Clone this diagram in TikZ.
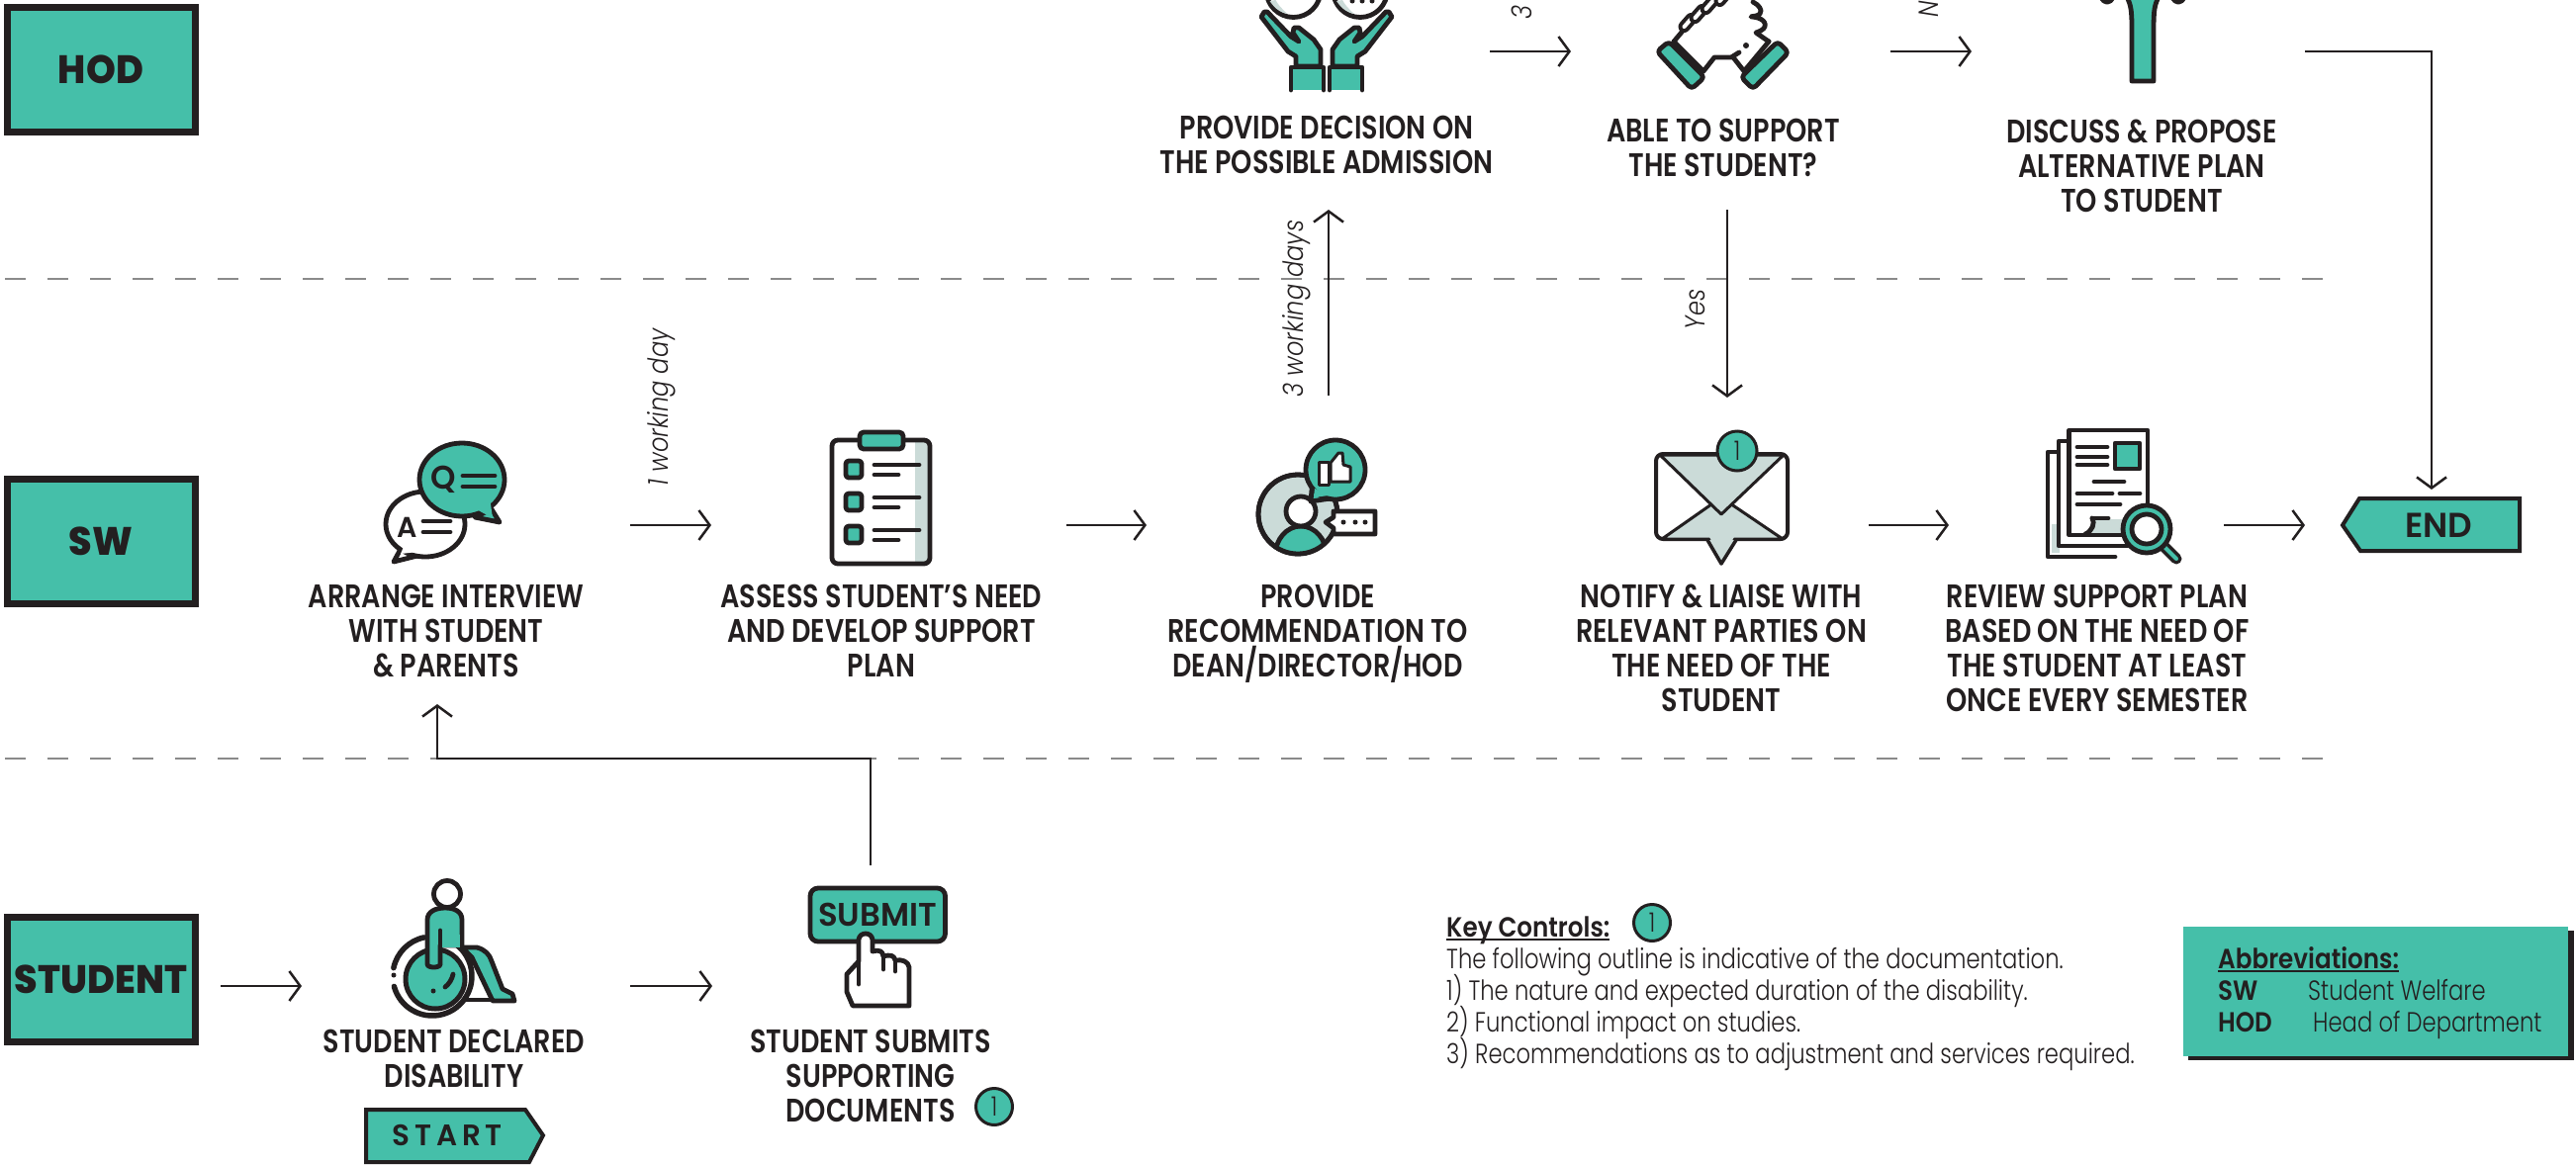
\documentclass[tikz,border=0pt]{standalone}
\usepackage{fontspec}
\usetikzlibrary{arrows.meta,fit}
\setmainfont{Poppins}
\newfontfamily\labfont[FakeStretch=0.82]{Poppins SemiBold}
\newfontfamily\iconfont[FakeStretch=0.98]{Poppins SemiBold}
\newfontfamily\heavyfont[FakeStretch=0.95]{Poppins ExtraBold}
\newfontfamily\thinfont[FakeStretch=0.81]{Poppins Light}
\newfontfamily\rotfont[FakeStretch=0.86]{Poppins Light}
\newfontfamily\keyfont[FakeStretch=0.88]{Poppins SemiBold}
\definecolor{teal}{HTML}{45BFA9}
\definecolor{ink}{HTML}{231F20}
\definecolor{pale}{HTML}{CBDBD8}
\definecolor{gline}{HTML}{8A8A8A}
\newcommand{\myul}[1]{\setbox0\hbox{#1}\rlap{\rule[-4pt]{\wd0}{2.2pt}}\box0}
\tikzset{
 x=1pt,y=-1pt,
 cell/.style={inner sep=0pt,outer sep=0pt},
 lane/.style={draw=ink,line width=7pt,fill=teal,minimum width=190pt,minimum height=126pt,inner sep=0pt,text=ink,font=\heavyfont\fontsize{40}{40}\selectfont},
 steplabel/.style={align=center,inner sep=0pt,text=ink,font=\labfont\fontsize{33}{35}\selectfont},
 arr/.style={draw=ink,line width=2.5pt,-{Straight Barb[length=11pt,width=30pt,line width=2.5pt]}},
 lanedash/.style={draw=gline,line width=2pt,dash pattern=on 21pt off 22pt},
 ic/.style={draw=ink,line width=4.8pt,line join=round,line cap=round},
 thinrot/.style={rotate=90,inner sep=0pt,text=ink,font=\rotfont\itshape\fontsize{28}{28}\selectfont},
 badge/.style={circle,draw=ink,line width=3pt,fill=teal,minimum size=37pt,inner sep=0pt,text=ink,font=\thinfont\fontsize{27}{27}\selectfont},
 tagtext/.style={inner sep=0pt,text=ink,font=\iconfont\fontsize{35}{35}\selectfont},
 keytext/.style={anchor=base west,inner sep=0pt,text=ink,font=\thinfont\fontsize{28}{28}\selectfont},
 keyhead/.style={anchor=base west,inner sep=0pt,text=ink,font=\keyfont\fontsize{28}{28}\selectfont},
}
\begin{document}
\begin{tikzpicture}
\useasboundingbox (0,0) rectangle (2604,1178);
\clip (0,0) rectangle (2604,1178);
\fill[white] (0,0) rectangle (2604,1178);
% lanes
\node[lane] (hod) at (102,70) {HOD};
\node[lane] (sw) at (102,547) {SW};
\node[lane] (student) at (102,990) {STUDENT};
\draw[lanedash] (5,282) -- (2350,282);
\draw[lanedash] (5,767) -- (2350,767);
% invisible step cells whose edges carry the connectors
\node[cell,fit={(223,900) (223,1094)}] (cstudent) {};
\node[cell,fit={(305,960) (637,1034)}] (cdeclared) {};
\node[cell,fit={(720,875) (1040,1119)}] (csubmit) {};
\node[cell,fit={(300,712) (584,350)}] (cchat) {};
\node[cell,fit={(719,470) (1078,592)}] (cassess) {};
\node[cell,fit={(1159,400) (1527,662)}] (crec) {};
\node[cell,fit={(1603,402) (1889,660)}] (cnotify) {};
\node[cell,fit={(1970,470) (2248,592)}] (creview) {};
\node[cell,fit={(1180,-108) (1506,212)}] (cdecision) {};
\node[cell,fit={(1588,-108) (1911,212)}] (cable) {};
\node[cell,fit={(1993,-40) (2330,144)}] (cdiscuss) {};
\coordinate (endtop) at (2458,495);
\coordinate (endleft) at (2330,531);
\coordinate (subtop) at (880,875);
\coordinate (chatbelow) at (442,712);
% connectors
\draw[arr] (cstudent.center |- 0,997) -- (cdeclared.west |- 0,997);
\draw[arr] (cdeclared.east) -- (csubmit.west |- cdeclared.east);
\draw[arr] (subtop) -- (880,767) -| (chatbelow);
\draw[arr] (cchat.east |- 0,531) ++(53,0) -- (cassess.west);
\draw[arr] (cassess.east) -- (crec.west);
\draw[arr] (crec.north) -- (cdecision.south);
\draw[arr] (cdecision.east) -- (cable.west);
\draw[arr] (cable.east) -- (cdiscuss.west);
\draw[arr] ([xshift=-3.5pt]cable.south) -- (cnotify.north);
\draw[arr] (cnotify.east) -- (creview.west);
\draw[arr] (creview.east |- endleft) -- (endleft);
\draw[arr] (cdiscuss.east) -| (endtop);
% rotated labels
\node[thinrot] (l1) at (669,412) {1 working day};
\node[thinrot] (l3) at (1311,312) {3 working days};
\node[thinrot] (lyes) at (1714,313) {Yes};
\node[thinrot,anchor=west] (l3b) at (1538,20) {3};
\node[thinrot,anchor=west] (lno) at (1950,18) {N};
% step labels
\node[steplabel] (tdecision) at (1341,146) {PROVIDE DECISION ON\\THE POSSIBLE ADMISSION};
\node[steplabel] (table) at (1742,149) {ABLE TO SUPPORT\\THE STUDENT?};
\node[steplabel] (tdiscuss) at (2165,168) {DISCUSS \& PROPOSE\\ALTERNATIVE PLAN\\TO STUDENT};
\node[steplabel] (tarrange) at (451,638) {ARRANGE INTERVIEW\\WITH STUDENT\\\& PARENTS};
\node[steplabel] (tassess) at (891,638) {ASSESS STUDENT’S NEED\\AND DEVELOP SUPPORT\\PLAN};
\node[steplabel] (trec) at (1332,641) {PROVIDE\\RECOMMENDATION TO\\DEAN/DIRECTOR/HOD};
\node[steplabel] (tnotify) at (1740,655) {NOTIFY \& LIAISE WITH\\RELEVANT PARTIES ON\\THE NEED OF THE\\STUDENT};
\node[steplabel] (treview) at (2120,655) {REVIEW SUPPORT PLAN\\BASED ON THE NEED OF\\THE STUDENT AT LEAST\\ONCE EVERY SEMESTER};
\node[steplabel] (tdeclared) at (459,1070) {STUDENT DECLARED\\DISABILITY};
\node[steplabel] (tsubmits) at (880,1088) {STUDENT SUBMITS\\SUPPORTING\\DOCUMENTS};
\node[badge] (b1) at (1005,1119) {1};
% START / END tags
\draw[draw=ink,line width=4pt,fill=teal] (370,1122) -- (531,1122) -- (549,1148) -- (535,1175) -- (370,1175) -- cycle;
\node[tagtext,font=\iconfont\fontsize{30}{30}\selectfont] (tstart) at (452,1148) {S\,T\,A\,R\,T};
\draw[draw=ink,line width=4pt,fill=teal] (2368,531) -- (2385,504) -- (2547,504) -- (2547,557) -- (2386,557) -- cycle;
\node[tagtext] (tend) at (2465,531) {END};
% key controls
\node[keyhead] (keyh) at (1462,947) {\myul{Key Controls:}};
\node[badge] (b2) at (1670,933) {1};
\node[keytext] (k0) at (1462,979) {The following outline is indicative of the documentation.};
\node[keytext] (k1) at (1462,1011) {1) The nature and expected duration of the disability.};
\node[keytext] (k2) at (1462,1043) {2) Functional impact on studies.};
\node[keytext] (k3) at (1462,1075) {3) Recommendations as to adjustment and services required.};
% abbreviations
\fill[ink] (2212,941) rectangle (2602,1072);
\fill[teal] (2207,937) rectangle (2596,1068);
\node[keyhead] (ah) at (2242,979) {\myul{Abbreviations:}};
\node[keyhead] (as) at (2242,1011) {SW};
\node[keytext] (asv) at (2333,1011) {Student Welfare};
\node[keyhead] (ao) at (2242,1043) {HOD};
\node[keytext] (aov) at (2338,1043) {Head of Department};
% ---------- icons ----------
% hands with two discs
\foreach \cx in {1307.5,1375}{
\draw[ic,fill=white] (\cx,-10) circle [radius=27.5];
\fill[pale] (\cx-24,1) .. controls (\cx-18,10) and (\cx-12,13) .. (\cx-6,14) .. controls (\cx-12,9) and (\cx-16,4) .. (\cx-18,0) -- cycle;
}
\foreach \dx in {1367,1377,1387}{\fill[ink] (\dx,1) circle [radius=2.5];}
\foreach \s in {1,-1}{
\begin{scope}[shift={(1341,0)},xscale=\s]
\draw[ic,fill=teal] (-60,12) -- (-63,12) -- (-66,17) -- (-39,52) -- (-31,57) -- (-31,67) -- (-6,67) -- (-6,50) -- (-13,40) -- (-28,28) -- (-33,28) -- (-34,33) -- (-28,42) -- (-36,37) -- cycle;
\fill[teal] (-36,68) rectangle (-3,91);
\draw[ic] (-36,91) -- (-36,68) -- (-3,68) -- (-3,91);
\end{scope}}
% handshake
\draw[ic] (1692,42) -- (1702,30);
\draw[ic] (1692,42) -- (1722,72) -- (1733,58) -- (1750,58) -- (1758,53);
\draw[ic] (1752,58) -- (1763,72) -- (1788,42);
\foreach \ax/\ay in {1706/23,1717/14,1728/5,1742/-3}{
 \draw[line width=12pt,ink,line cap=round] (\ax-3.5,\ay+4) -- (\ax+3.5,\ay-4);
 \draw[line width=4pt,white,line cap=round] (\ax-3.5,\ay+4) -- (\ax+3.5,\ay-4);
}
\draw[ic] (1772,2) .. controls (1778,5) and (1782,10) .. (1779,14) .. controls (1776,17) and (1771,16) .. (1770,17) .. controls (1776,17) and (1786,20) .. (1784,27) .. controls (1783,30) and (1778,32) .. (1775,33) -- (1788,42);
\fill[ink] (1765,46) circle [radius=3];
\draw[ic,fill=teal,rounded corners=4pt] (1687,42) -- (1675,52) -- (1710,90) -- (1723,78) -- cycle;
\draw[ic,fill=teal,rounded corners=4pt] (1797,42) -- (1808,53) -- (1772,90) -- (1760,78) -- cycle;
% discuss (stem)
\draw[ic,fill=teal] (2150,-3) .. controls (2154,5) and (2155,10) .. (2155,30) -- (2155,82) -- (2177,82) -- (2177,30) .. controls (2177,10) and (2178,5) .. (2182,-3);
\draw[ic,fill=teal] (2124,-3) .. controls (2127,4) and (2133,4) .. (2136,-3);
\draw[ic,fill=teal] (2196,-3) .. controls (2199,4) and (2205,4) .. (2208,-3);
% chat bubbles
\draw[ic,fill=white] (422,562) -- (398,568) -- (405,555) -- cycle;
\draw[ic,fill=white] (430,530) circle [x radius=40,y radius=33];
\fill[white] (410,548) -- (405,560) -- (422,558) -- (428,545) -- cycle;
\node[inner sep=0pt,text=ink,font=\iconfont\fontsize{29}{29}\selectfont] (qa) at (412,533) {A};
\draw[ic] (428,527) -- (455,527) (428,538) -- (455,538);
\draw[ic,fill=teal] (497,515) -- (505,528) -- (480,523) -- cycle;
\draw[ic,fill=teal] (467,485) circle [x radius=43,y radius=37];
\fill[teal] (478,513) -- (498,524) -- (495,503) -- cycle;
\node[inner sep=0pt,text=ink,font=\iconfont\fontsize{33}{33}\selectfont] (qq) at (448,485) {Q};
\draw[ic] (468,481) -- (500,481) (468,492) -- (500,492);
% clipboard
\fill[pale] (925,447) rectangle (938,568);
\draw[ic,rounded corners=6pt] (867,445) -- (841,445) -- (841,570) -- (940,570) -- (940,445) -- (915,445);
\draw[ic,fill=teal,rounded corners=4pt] (869,437) rectangle (913,454);
\foreach \cy in {466,499,532}{
 \draw[ic,fill=teal,rounded corners=3pt] (855,\cy) rectangle (871,\cy+17);
 \draw[ic] (884,\cy+4) -- (929,\cy+4);
 \draw[ic] (884,\cy+14) -- (908,\cy+14);
}
% recommendation person
\draw[ic,fill=pale] (1312,520) circle [radius=40];
\begin{scope}
\clip (1312,520) circle [radius=40];
\draw[ic,fill=teal] (1315,562) circle [x radius=26,y radius=30];
\end{scope}
\draw[ic,fill=white] (1315,517) circle [radius=15];
\draw[ic] (1312,520) circle [radius=40];
\draw[ic,fill=teal] (1326,495) -- (1325,507) -- (1345,504) -- cycle;
\draw[ic,fill=teal] (1350,475) circle [radius=30];
\fill[teal] (1329,494) -- (1328,503) -- (1343,501) -- cycle;
\draw[line width=3pt,draw=ink,fill=white,line join=round] (1333,467) rectangle (1343,490);
\draw[line width=3pt,draw=ink,fill=white,line join=round] (1345,468) -- (1353,458) -- (1357,458) -- (1358,470) -- (1365,472) -- (1365,487) -- (1345,487) -- cycle;
\draw[ic,fill=white] (1348,517) -- (1390,517) -- (1390,540) -- (1348,540) -- (1348,534) -- (1340,528) -- (1348,523) -- cycle;
\foreach \dx in {1358,1370,1380}{\fill[ink] (\dx,528) circle [radius=2.5];}
% envelope
\draw[ic,fill=white,rounded corners=7pt,line width=4pt] (1674,459) rectangle (1807,545);
\draw[line width=3pt,draw=ink,fill=pale,line join=round] (1680,545) -- (1740,503) -- (1802,545) -- cycle;
\draw[line width=3pt,draw=ink,fill=pale,line join=round] (1678,460) -- (1803,460) -- (1740,520) -- cycle;
\draw[line width=3.5pt,draw=ink,fill=pale,line join=round] (1726,546) -- (1740,570) -- (1755,546);
\fill[pale] (1728,543) -- (1740,565) -- (1753,543) -- cycle;
\node[badge,minimum size=40pt] (b3) at (1756,456) {1};
% documents
\draw[ic,fill=white] (2138,563) -- (2070,563) -- (2070,457) -- (2082,457);
\fill[pale] (2074,530) rectangle (2082,559);
\draw[ic,fill=white] (2150,552) -- (2081,552) -- (2081,446) -- (2092,446);
\draw[ic,fill=white] (2091.5,435) rectangle (2171,541);
\fill[pale] (2115,525) rectangle (2155,539);
\draw[ic,fill=teal] (2138,448) rectangle (2163,474);
\foreach \ly in {452,462,470}{\draw[ic] (2100,\ly) -- (2130,\ly);}
\draw[ic] (2117,487) -- (2147,487);
\draw[ic] (2100,499) -- (2135,499) (2143,499) -- (2163,499);
\draw[ic] (2100,510) -- (2143,510);
\draw[ic] (2115,524) .. controls (2118,529) and (2115,537) .. (2108,540);
\draw[ic] (2115,524) -- (2131,524);
% magnifier
\draw[draw=ink,line width=11pt,line cap=round] (2186,551) -- (2200,565);
\draw[draw=teal,line width=4pt,line cap=round] (2186,551) -- (2200,565);
\draw[ic,fill=teal] (2170,535) circle [radius=24];
\draw[ic,fill=white] (2170,535) circle [radius=15];
% wheelchair
\draw[ic,fill=teal] (467,958) -- (482,958) .. controls (490,960) and (495,965) .. (497,972) -- (508,1000) -- (518,1005) -- (520,1012) -- (498,1012) -- (477,968) -- cycle;
\draw[ic] (472,1011) -- (498,1011);
\fill[white] (437,987) circle [radius=38];
\draw[draw=ink,line width=5.5pt,line cap=round] (437,987) ++(165:40) arc [start angle=165,end angle=-50,radius=40];
\draw[draw=ink,line width=5.5pt,line cap=round] (437,987) ++(192:40) arc [start angle=192,end angle=258,radius=40];
\fill[ink] (398,986) circle [radius=2.5];
\draw[draw=ink,line width=5pt,fill=teal] (440,990) circle [radius=30];
\draw[ic,fill=teal] (445,975) .. controls (445,979) and (432,979) .. (432,975) -- (432,930) .. controls (432,922) and (440,918) .. (450,918) .. controls (460,918) and (467,922) .. (467,930) -- (467,956) -- (445,956) -- cycle;
\fill[teal] (447,945) rectangle (465,958);
\draw[ic] (445,975) -- (445,941);
\draw[ic] (467,930) -- (467,956);
\draw[ic] (458,985) .. controls (457,990) and (454,995) .. (450,998);
\fill[ink] (438,1002) circle [radius=2.5];
\draw[ic,fill=white] (452,904) circle [radius=13.5];
% submit button and hand
\draw[ic,fill=teal,rounded corners=8pt] (819,898) rectangle (955.5,952);
\node[inner sep=0pt,text=ink,font=\iconfont\fontsize{33}{33}\selectfont] (tsubmit) at (887,925) {SUBMIT};
\draw[ic,fill=white] (868,972) -- (868,950) .. controls (869,942) and (881,942) .. (882,950) -- (882,962) .. controls (890,960) and (892,962) .. (893,967) .. controls (900,965) and (904,966) .. (905,971) .. controls (912,970) and (918,972) .. (919,978) -- (919,1017) -- (862,1017) -- (856,1003) -- (856,985) -- cycle;
\draw[ic] (868,972) -- (868,995);
\draw[ic] (893,967) -- (893,980) (905,971) -- (905,982);
\end{tikzpicture}
\end{document}
